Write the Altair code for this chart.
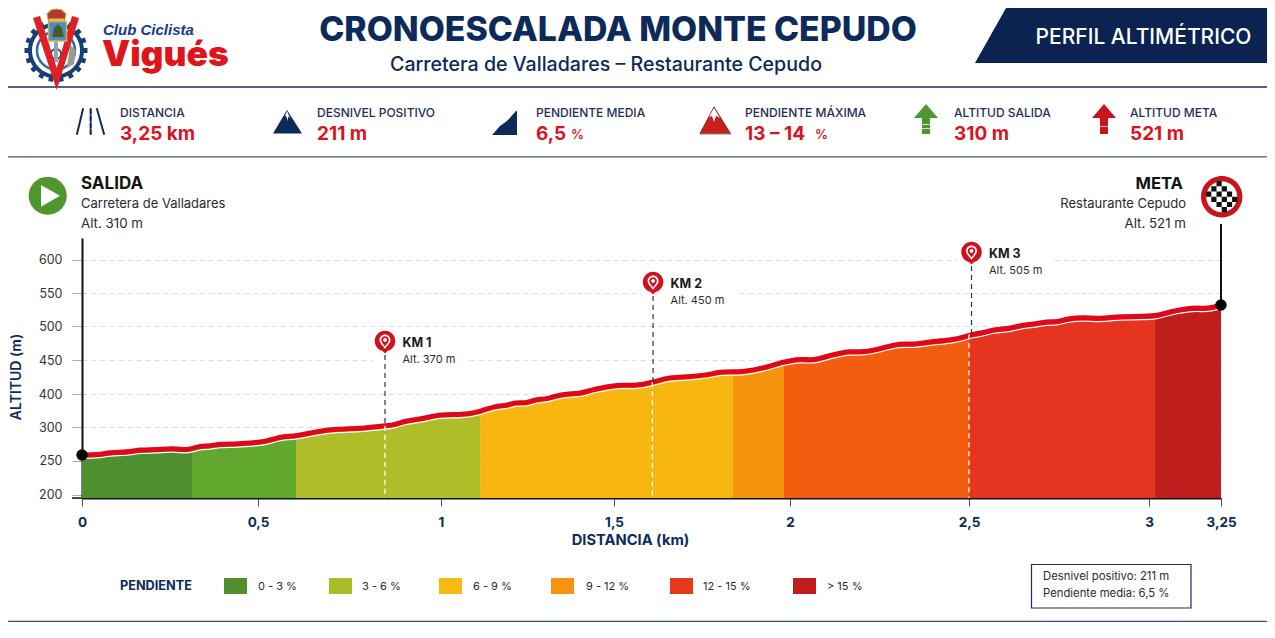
import math
import altair as alt
import pandas as pd

# ---------- data ----------
km = [0, .045, .080, .128, .165, .213, .256, .298, .3125, .335, .364, .392, .440, .5, .514, .541, .568, .604,
      .656, .716, .779, .847, .874, .901, .943, 1.0, 1.061, 1.113, 1.156, 1.191, 1.214, 1.249, 1.272, 1.306,
      1.350, 1.402, 1.439, 1.5, 1.517, 1.565, 1.611, 1.659, 1.707, 1.764, 1.801, 1.838, 1.866, 1.923, 1.977,
      1.983, 2.0, 2.028, 2.070, 2.098, 2.140, 2.162, 2.204, 2.257, 2.307, 2.349, 2.377, 2.455, 2.5, 2.508,
      2.536, 2.567, 2.614, 2.647, 2.678, 2.717, 2.744, 2.772, 2.817, 2.869, 2.900, 3.0, 3.021, 3.073, 3.153,
      3.205, 3.25]
alt_m = [258.5, 258.5, 262.6, 262.6, 266.5, 266.5, 268.6, 266, 268, 272, 272, 275, 275, 277.7, 278.4, 282, 286.5,
         286.5, 293.4, 297.9, 297.9, 304.8, 306.9, 319.8, 323.4, 340, 337, 346.8, 364, 364.9, 375, 372, 384, 384,
         400.4, 400, 407, 412.2, 413.4, 412.3, 417.3, 425.2, 425.2, 428, 433, 433, 433, 438, 447, 447.5, 449.3,
         451.9, 450, 455.3, 460.3, 463.2, 461.8, 467.7, 475.4, 472.9, 476.9, 479.4, 486.5, 488.2, 489.7, 495.6,
         496.5, 502, 503, 507.5, 506, 511.4, 513.5, 511.4, 514.4, 515.2, 515.5, 522, 528.6, 526, 532]
seg_cuts = [0, .3125, .604, 1.113, 1.838, 1.983, 2.5, 3.021, 3.25]
seg_names = ["a", "b", "c", "d", "e", "f", "g", "h"]
seg_colors = ["#4f8f30", "#62a82f", "#aebd28", "#f8b610", "#f5930f", "#f25d0f", "#e5351e", "#c01d1d"]
y_ticks = [200, 250, 300, 400, 450, 500, 550, 600]
x_ticks = [0, .5, 1, 1.5, 2, 2.5, 3, 3.25]
marker_names = ["KM 1", "KM 2", "KM 3"]
marker_alts = ["Alt. 370 m", "Alt. 450 m", "Alt. 505 m"]
marker_km = [.847, 1.611, 2.507]
marker_foot = [.847, 1.609, 2.5]
marker_line = [304.8, 417.3, 488.2]
marker_top = [457.8, 545.5, 590.5]
marker_pin = [478.4, 566.5, 611.5]
legend_labels = ["0 - 3 %", "3 - 6 %", "6 - 9 %", "9 - 12 %", "12 - 15 %", "> 15 %"]
legend_colors = ["#4f8f30", "#a9bd2a", "#fab90f", "#f7930e", "#e8391f", "#c11d1d"]

# ---------- layout ----------
OX, OY = 82, 238
W, H = 1139, 260
FONT = "Inter"
NAVY = "#0c2a5a"
RED = "#d9141c"
DARK = "#2a2a2e"
x_scale = alt.Scale(domain=x_ticks, range=[0, 176, 359, 532, 708, 887, 1067, 1139], nice=False, zero=False)
y_scale = alt.Scale(domain=[194.6, 200, 250, 300, 400, 450, 500, 550, 600, 632.5],
                    range=[260, 256.7, 222.7, 189.3, 156, 122.3, 88.3, 55, 21.7, 0], nice=False, zero=False)
BLANK = alt.Data(values=[{}])
layers = []


def shape(d, fill=None, stroke=None, sw=1.0, dash=None):
    """Decoration drawn as a path in page pixels."""
    kw = dict(shape=d, size=4, opacity=1)
    if fill:
        kw.update(filled=True, fill=fill, strokeWidth=0)
    if stroke:
        kw.update(filled=False, stroke=stroke, strokeWidth=sw, strokeCap="round")
        if fill:
            kw.update(filled=True, fill=fill)
    if dash:
        kw.update(strokeDash=dash)
    layers.append(alt.Chart(BLANK).mark_point(**kw).encode(x=alt.value(-OX), y=alt.value(-OY)))


def label(px, py, s, size=12, color=DARK, weight="normal", align="left", font=FONT, angle=None, style=None, stroke=None):
    kw = dict(text=s, fontSize=size, color=color, fontWeight=weight, align=align, baseline="middle", font=font)
    if angle is not None:
        kw["angle"] = angle
    if style:
        kw["fontStyle"] = style
    if stroke:
        kw.update(stroke=stroke, strokeWidth=0.8)
    layers.append(alt.Chart(BLANK).mark_text(**kw).encode(x=alt.value(px - OX), y=alt.value(py - OY)))


def rect(x0, y0, x1, y1):
    return f"M{x0},{y0}L{x1},{y0}L{x1},{y1}L{x0},{y1}Z"


def circ(cx, cy, r):
    return f"M{cx - r},{cy}a{r},{r} 0 1,0 {2 * r},0a{r},{r} 0 1,0 {-2 * r},0Z"


def poly(*pts):
    return "M" + "L".join(f"{a},{b}" for a, b in pts) + "Z"


# page frame rules
shape(rect(0, 86.3, 1275, 87.7), fill="#1d2f5e")
shape(rect(0, 156.2, 1275, 157.6), fill="#44557c")
shape(rect(0, 620.8, 1275, 622), fill="#3b4c78")

# logo
teeth = ""
for i in range(18):
    a = i * 2 * math.pi / 18
    c, s = math.cos(a), math.sin(a)
    r0, r1, hw = 24, 31.5, 2.4
    teeth += poly((56 + r0 * c - hw * s, 50.5 + r0 * s + hw * c), (56 + r1 * c - hw * s, 50.5 + r1 * s + hw * c),
                  (56 + r1 * c + hw * s, 50.5 + r1 * s - hw * c), (56 + r0 * c + hw * s, 50.5 + r0 * s - hw * c))
shape(teeth + circ(56, 50.5, 28), fill="#163f75")
shape(circ(56, 50.5, 24), fill="#ffffff")
shape(circ(56, 50.5, 19), stroke="#2c6aa8", sw=2.5)
shape(circ(56, 54, 5), stroke="#27507f", sw=2)
shape(rect(54, 42, 58, 62), fill="#8fa3b5")
shape(poly((70, 45), (76, 50), (74, 64), (67, 68)), fill="#9a9a96")
shape(poly((33, 18), (40, 16), (56.7, 68), (72, 16), (79, 18), (56.7, 90)), fill="#df2026")
shape(poly((48.5, 21), (47, 14), (51, 10), (56.5, 9), (62, 10), (66, 14), (64.5, 21)), fill="#b8352a", stroke="#c9a044", sw=1.1)
shape(rect(49, 18.5, 64, 21), fill="#e0bb5a")
shape(rect(48.5, 21.5, 66.5, 41), fill="#4a8fbd", stroke="#d5b04a", sw=1.5)
shape(poly((52, 37), (54, 28), (58, 24), (62, 28), (64, 37)), fill="#4f5a2a")
label(103, 30, "Club Ciclista", size=15, color="#143b86", weight="bold", style="italic", font="Liberation Sans")
label(102, 55, "Vigués", size=35.4, color="#e0151c", weight=900)

# title block
label(618, 31, "CRONOESCALADA MONTE CEPUDO", size=33.8, color=NAVY, weight=800, align="center")
label(606, 64.5, "Carretera de Valladares – Restaurante Cepudo", size=19.6, color=NAVY, weight=500, align="center")
shape(poly((1015, -8), (1275, -8), (1275, 63), (975, 63)), fill="#0a2351")
label(1143.5, 37.5, "PERFIL ALTIMÉTRICO", size=21, color="#ffffff", weight=500, align="center")

# stat strip
for x0, cap in zip([120, 317, 536, 745, 954, 1130],
                   ["DISTANCIA", "DESNIVEL POSITIVO", "PENDIENTE MEDIA", "PENDIENTE MÁXIMA", "ALTITUD SALIDA", "ALTITUD META"]):
    label(x0, 113, cap, size=12, color="#1c2f57", weight=500)
for x0, val in zip([120, 317, 536, 745, 954, 1130], ["3,25 km", "211 m", "6,5", "13 – 14", "310 m", "521 m"]):
    label(x0, 134, val, size=19, color=RED, weight=700)
label(571, 135, "%", size=13, color=RED, weight=600)
label(815, 135, "%", size=13, color=RED, weight=600)

shape("M83,109L77,134M97,109L104,134", stroke=NAVY, sw=2)
shape("M90.7,109L90.7,134", stroke=NAVY, sw=2.2, dash=[5, 2])
shape(poly((273, 133.5), (287, 110), (302, 133.5)), fill=NAVY)
shape(poly((285, 116), (287, 111), (290, 118), (288, 116.5), (288, 121), (286, 116)), fill="#ffffff")
shape(poly((492, 135), (500, 126), (507, 121), (516, 111), (517, 111), (517, 135)), fill=NAVY)
shape(poly((700, 133.5), (714, 107), (730.5, 133.5)), fill="#c8201f", stroke="#5c1a1a", sw=0.8)
shape(poly((709, 117), (714, 108), (720, 118), (716, 116), (714, 122), (712, 116)), fill="#ffffff")
shape(poly((926, 104), (938, 118), (930, 118), (930, 134), (922, 134), (922, 118), (914, 118)), fill="#4f962f")
shape(poly((1104, 104), (1116, 118), (1108, 118), (1108, 134), (1100, 134), (1100, 118), (1092, 118)), fill="#c8141c")
shape(rect(922, 124, 930, 125) + rect(922, 128, 930, 129), fill="#d9e6c9")
shape(rect(1100, 126, 1108, 127), fill="#f3b5b5")

# start / finish captions
shape(circ(47.7, 195.7, 19), fill="#4f962f")
shape(poly((41, 185), (60, 195.7), (41, 206.7)), fill="#ffffff")
label(81, 184, "SALIDA", size=17, color="#141414", weight=700)
label(81, 203.5, "Carretera de Valladares", size=13, color=DARK)
label(81, 224, "Alt. 310 m", size=13.3, color=DARK)
label(1183, 184, "META", size=16.6, color="#141414", weight=700, align="right")
label(1186, 204, "Restaurante Cepudo", size=13, color=DARK, align="right")
label(1186, 224, "Alt. 521 m", size=13.3, color=DARK, align="right")
shape(circ(1221.7, 196.7, 20.7), fill="#c8141c")
shape(circ(1221.7, 196.7, 15.5), fill="#ffffff")
chk = ""
for i in range(-3, 3):
    for j in range(-3, 3):
        cx, cy = 1221.7 + (i + .5) * 5.2, 196.7 + (j + .5) * 5.2
        if (i + j) % 2 == 0 and math.hypot(cx - 1221.7, cy - 196.7) < 14:
            chk += rect(cx - 2.6, cy - 2.6, cx + 2.6, cy + 2.6)
shape(chk, fill="#111111")

# white gaps in the grid behind the kilometre captions
shape(rect(373, 332, 466, 368), fill="#ffffff")
shape(rect(641, 272, 735, 308), fill="#ffffff")
shape(rect(958, 242, 1053, 278), fill="#ffffff")

# ---------- profile ----------
rows = []
for name, a, b in zip(seg_names, seg_cuts[:-1], seg_cuts[1:]):
    for k, v in zip(km, alt_m):
        if a <= k <= b:
            rows.append({"km": k, "alt": v, "seg": name, "base": y_scale.domain[0]})
areas = pd.DataFrame(rows)
line = pd.DataFrame({"km": km, "alt": alt_m})

X = alt.X("km:Q", scale=x_scale,
          axis=alt.Axis(title=None, values=x_ticks, tickCount=20, grid=False, tickColor="#555555", tickSize=8, tickWidth=1,
                        domainColor="#111111", domainWidth=2, labelColor=NAVY, labelFont=FONT, labelFontSize=13.5,
                        labelFontWeight=700, labelPadding=9, labelExpr="replace('' + datum.value, '.', ',')",
                        labelOverlap=False, labelFlush=False))
Y = alt.Y("alt:Q", scale=y_scale, stack=None,
          axis=alt.Axis(title=None, values=y_ticks, tickCount=20, grid=True, gridColor="#dddddd", gridDash=[5, 4], gridWidth=1,
                        tickColor="#aaaaaa", tickSize=10, tickWidth=1, domainColor="#111111", domainWidth=2,
                        labelColor="#333333", labelFont=FONT, labelFontSize=12.5, labelPadding=10, labelOverlap=False))

profile = [
    alt.Chart(areas).mark_area(interpolate="linear", opacity=1).encode(
        x=X, y=Y, y2=alt.Y2("base:Q"),
        color=alt.Color("seg:N", scale=alt.Scale(domain=seg_names, range=seg_colors), legend=None)),
    alt.Chart(line).mark_line(interpolate="basis", color="#ffffff", strokeWidth=1.2, yOffset=3.4).encode(x=X, y=Y),
    alt.Chart(line).mark_line(interpolate="basis", color="#e2061a", strokeWidth=5).encode(x=X, y=Y),
]

m = pd.DataFrame({"km": marker_km, "foot": marker_foot, "line": marker_line, "top": marker_top, "pin": marker_pin,
                  "name": marker_names, "altt": marker_alts, "base": y_scale.domain[0]})
mx = alt.X("km:Q", scale=x_scale)
fx = alt.X("foot:Q", scale=x_scale)
pin_y = alt.Y("pin:Q", scale=y_scale)
profile += [
    alt.Chart(m).mark_rule(color="#ffffff", strokeWidth=1.3, strokeDash=[5, 4]).encode(
        x=fx, y=alt.Y("line:Q", scale=y_scale), y2=alt.Y2("base:Q")),
    alt.Chart(m).mark_rule(color="#333333", strokeWidth=1.2, strokeDash=[5, 4]).encode(
        x=mx, y=alt.Y("top:Q", scale=y_scale), y2=alt.Y2("line:Q")),
    alt.Chart(m).mark_point(shape=circ(0, 0, 10.3) + "M-4,8.5L0,12.5L4,8.5Z", size=4, filled=True, fill="#d3101c",
                            strokeWidth=0, opacity=1).encode(x=mx, y=pin_y),
    alt.Chart(m).mark_point(shape="M-5.5,-1a5.5,5.5 0 1,1 11,0C5.5,2.5 1.5,5 0,8C-1.5,5 -5.5,2.5 -5.5,-1Z", size=4,
                            filled=True, fill="#ffffff", strokeWidth=0, opacity=1).encode(x=mx, y=pin_y),
    alt.Chart(m).mark_point(shape="M-3.8,-1a3.8,3.8 0 1,1 7.6,0C3.8,1.5 1,3.5 0,5.5C-1,3.5 -3.8,1.5 -3.8,-1Z", size=4,
                            filled=True, fill="#d3101c", strokeWidth=0, opacity=1).encode(x=mx, y=pin_y),
    alt.Chart(m).mark_point(shape=circ(0, -1, 1.9), size=4, filled=True, fill="#ffffff", strokeWidth=0,
                            opacity=1).encode(x=mx, y=pin_y),
    alt.Chart(m).mark_text(font=FONT, fontSize=12.5, fontWeight=700, color="#1a1a1a", align="left", baseline="middle",
                           dx=17.5, dy=2).encode(x=mx, y=pin_y, text="name:N"),
    alt.Chart(m).mark_text(font=FONT, fontSize=11, color=DARK, align="left", baseline="middle",
                           dx=17.5, dy=19).encode(x=mx, y=pin_y, text="altt:N"),
]

ends = pd.DataFrame({"km": [km[0], km[-1]], "alt": [alt_m[0], alt_m[-1]]})
finish = ends.tail(1)
profile += [
    alt.Chart(finish).mark_rule(color="#111111", strokeWidth=2).encode(
        x=alt.X("km:Q", scale=x_scale), y=alt.Y("alt:Q", scale=y_scale), y2=alt.value(224 - OY)),
    alt.Chart(ends).mark_circle(color="#000000", size=130, opacity=1).encode(
        x=alt.X("km:Q", scale=x_scale), y=alt.Y("alt:Q", scale=y_scale)),
]
layers = layers + profile

# axis furniture
shape(rect(72, 497.3, 82, 498.8), fill="#111111")
label(17, 377, "ALTITUD (m)", size=14, color=NAVY, weight=600, align="center", angle=270)
label(630.5, 541, "DISTANCIA (km)", size=14.7, color=NAVY, weight=700, align="center")

# slope key (hand-set row, as in the picture)
label(120, 586, "PENDIENTE", size=12.7, color=NAVY, weight=700)
for x0, lab_x, s, c in zip([224, 329, 439, 551, 670, 793], [258, 362, 473, 586, 703, 827], legend_labels, legend_colors):
    shape(rect(x0, 578, x0 + 23, 594), fill=c)
    label(lab_x, 586.5, s, size=11, color=DARK)

# note box
shape(rect(1031.5, 564.5, 1191, 608), fill="#ffffff", stroke="#1d2f5e", sw=1.2)
label(1043, 577, "Desnivel positivo: 211 m", size=11.3, color=DARK)
label(1043, 594, "Pendiente media: 6,5 %", size=11.3, color=DARK)

chart = alt.layer(*layers).properties(
    width=W, height=H,
    autosize=alt.AutoSizeParams(type="none"),
    padding={"left": OX - 8, "top": OY - 8, "right": 1259 - (OX - 8) - W, "bottom": 622 - (OY - 8) - H},
    background="#ffffff",
).configure_view(stroke=None)

chart.save("out.html", embed_options={"renderer": "svg", "actions": False})
